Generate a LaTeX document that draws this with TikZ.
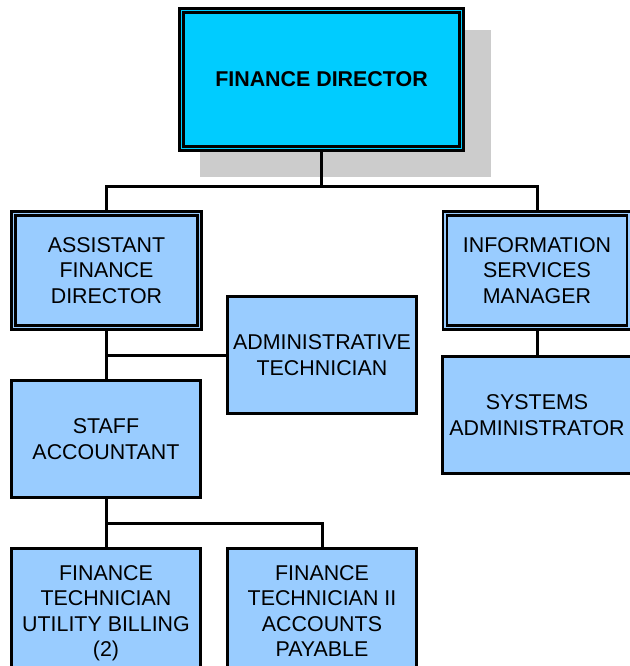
\documentclass[tikz,border=0pt]{standalone}
\usepackage{fontspec}
\setmainfont{Liberation Sans}
\definecolor{topcyan}{HTML}{00CCFF}
\definecolor{boxblue}{HTML}{99CCFF}
\definecolor{shadowgray}{HTML}{CCCCCC}
\begin{document}
\begin{tikzpicture}[x=1pt,y=-1pt,
  base/.style={align=center,inner sep=0pt,font=\fontsize{21.4}{25.5}\selectfont},
  dblbox/.style={base,draw=black,line width=2.6pt,double=#1,double distance=1.6pt,fill=#1},
  single/.style={base,draw=black,line width=2.8pt,fill=boxblue,minimum width=189.5pt,minimum height=117.5pt},
  link/.style={draw=black,line width=3pt}]
\useasboundingbox (0,0) rectangle (629,666);
\fill[shadowgray] (200,30) rectangle (491,177);
\node[dblbox=topcyan,minimum width=280pt,minimum height=138pt,font=\fontsize{21.4}{25.5}\selectfont\bfseries] (fd) at (321.5,79.5) {FINANCE DIRECTOR};
\node[dblbox=boxblue,minimum width=186pt,minimum height=114pt] (asst) at (106.5,270.5) {ASSISTANT\\FINANCE\\DIRECTOR};
\node[dblbox=boxblue,minimum width=184pt,minimum height=114pt] (info) at (537,270.5) {INFORMATION\\SERVICES\\MANAGER};
\node[single] (admin) at (322,355) {ADMINISTRATIVE\\TECHNICIAN};
\node[single] (staff) at (106,439) {STAFF\\ACCOUNTANT};
\node[single] (sys) at (537,415) {SYSTEMS\\ADMINISTRATOR};
\node[single,minimum height=129.5pt] (ftu) at (106,613) {FINANCE\\TECHNICIAN\\UTILITY BILLING\\(2)};
\node[single,minimum height=125.5pt] (ft2) at (322,611) {FINANCE\\TECHNICIAN II\\ACCOUNTS\\PAYABLE};
\coordinate (j1) at (321.5,186);
\coordinate (j2) at (106,523);
\draw[link] (fd.south) -- (j1);
\draw[link] (asst.north) |- (j1) -| (info.north);
\draw[link] (staff.north -| asst.south) -- (asst.south);
\draw[link] (admin.west) -- (admin.west -| asst.south);
\draw[link] (info.south) -- (sys.north);
\draw[link] (staff.south) -- (ftu.north);
\draw[link] (j2) -| (ft2.north);
\end{tikzpicture}
\end{document}
